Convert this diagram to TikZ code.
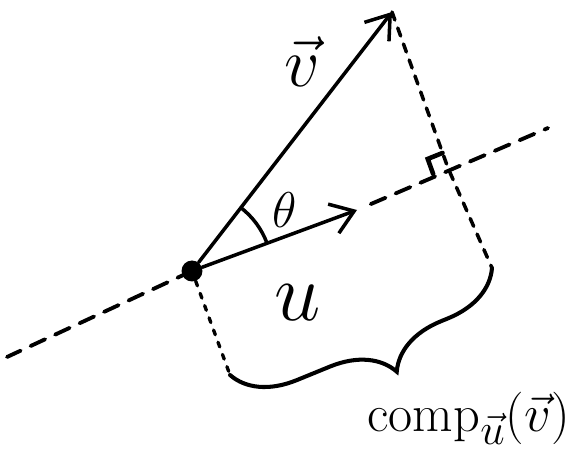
\documentclass[tikz,border=0pt]{standalone}
\usetikzlibrary{arrows.meta,decorations.pathreplacing,angles,calc}
\begin{document}
\begin{tikzpicture}[x=0.02cm,y=-0.02cm, line cap=round,
  vec/.style={line width=2pt, -{Straight Barb[length=0.44cm,width=0.62cm,line width=2pt]}},
  axisdash/.style={line width=2.2pt, dash pattern=on 0.32cm off 0.22cm},
  projdash/.style={line width=2pt, dash pattern=on 0.17cm off 0.17cm},
  smalldash/.style={line width=1.9pt, dash pattern=on 0.1cm off 0.16cm},
  lbl/.style={inner sep=0pt, font=\Huge},
  dotnode/.style={circle, fill, inner sep=0pt, minimum size=0.42cm}]
\useasboundingbox (0,0) rectangle (575,462);
\coordinate (L) at (7,357);
\coordinate (R) at (548,128);
\coordinate (Oc) at (192,271);
\coordinate (Vt) at (392,12);
\coordinate (Ut) at (357,210);
\coordinate (F) at (448,168);
\coordinate (BR) at (492,268);
\coordinate (BL) at (230,375);
% dashed line through the dot
\draw[axisdash] (Oc) -- (L);
\draw[axisdash] ($(Ut)!0.3cm!(R)$) -- (R);
% projection lines
\draw[projdash] (Vt) -- (F) -- (BR);
\node[dotnode] (O) at (Oc) {};
\draw[smalldash] (O) -- (BL);
% right-angle mark
\coordinate (c1) at ($(F)!0.32cm!(Oc)$);
\coordinate (c3) at ($(F)!0.32cm!(Vt)$);
\coordinate (c2) at ($(c1)+(c3)-(F)$);
\draw[line width=2.6pt] (c1) -- (c2) -- (c3);
% vectors
\draw[vec] (O) -- (Vt);
\draw[vec] (O) -- (Ut);
% angle
\pic[draw, line width=2pt, angle radius=1.6cm] {angle = Ut--Oc--Vt};
% brace
\draw[line width=2.3pt, decorate, decoration={brace, mirror, amplitude=1.2cm, aspect=0.55}] (BL) -- (BR);
% labels
\node[lbl, scale=1.6] (vlab) at (302,62) {$\vec{v}$};
\node[lbl, scale=1.15] (th) at (285,210) {$\theta$};
\node[lbl, scale=1.9] (ulab) at (298,303) {$u$};
\node[lbl, scale=1.2, anchor=east] (comp) at (570,418) {$\mathrm{comp}_{\vec{u}}\bigl(\vec{v}\bigr)$};
\end{tikzpicture}
\end{document}
